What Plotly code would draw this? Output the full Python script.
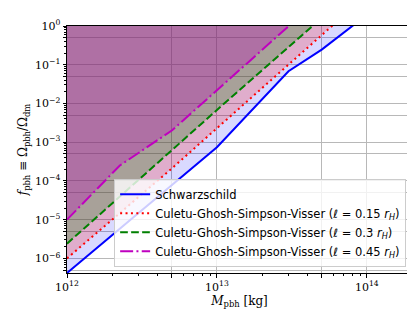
import math
import plotly.graph_objects as go

# ---- data ----
mass_schw = [1e12, 1e13, 3e13, 5e13, 1e14]
f_schw = [4.2e-7, 7.4e-4, 6.8e-2, 0.245, 1.95]

mass_l015 = [1e12, 2e12, 5e12, 1e13, 2e13, 5e13, 1e14]
f_l015 = [1e-6, 1e-5, 2.1e-4, 2.3e-3, 2.5e-2, 0.6, 6.3]

mass_l03 = [1e12, 1e13, 1e14]
f_l03 = [2.4e-6, 6.8e-3, 17.0]

mass_l045 = [1e12, 2.25e12, 5e12, 1e13, 3e13, 1e14]
f_l045 = [1e-5, 2.5e-4, 2e-3, 2.2e-2, 1.0, 63.0]

names = [
    "Schwarzschild",
    "Culetu-Ghosh-Simpson-Visser (<i>ℓ</i> = 0.15 <i>r</i><sub><i>H</i></sub>)",
    "Culetu-Ghosh-Simpson-Visser (<i>ℓ</i> = 0.3 <i>r</i><sub><i>H</i></sub>)",
    "Culetu-Ghosh-Simpson-Visser (<i>ℓ</i> = 0.45 <i>r</i><sub><i>H</i></sub>)",
]

x_tickvals = [1e12, 5e12, 1e13, 5e13, 1e14]
x_ticktext = ["10<sup>12</sup>", "", "10<sup>13</sup>", "", "10<sup>14</sup>"]
y_tickvals = [1e-6, 5e-6, 1e-5, 5e-5, 1e-4, 5e-4, 1e-3, 5e-3, 1e-2, 5e-2, 1e-1, 5e-1, 1, 5e-7]
y_ticktext = ["10<sup>−6</sup>", "", "10<sup>−5</sup>", "", "10<sup>−4</sup>", "",
              "10<sup>−3</sup>", "", "10<sup>−2</sup>", "", "10<sup>−1</sup>", "",
              "10<sup>0</sup>", ""]

x_minor = [m * 10 ** e for e in (12, 13) for m in (2, 3, 4, 6, 7, 8, 9)] + [2e14]
y_minor = [m * 10.0 ** e for e in range(-7, 0) for m in (2, 3, 4, 6, 7, 8, 9)]

F_TOP = 1e3

series = [
    (mass_schw, f_schw, "#0000ff", "solid", "rgba(0,0,255,0.15)"),
    (mass_l015, f_l015, "#ff0000", "2px,3.4px", "rgba(255,0,0,0.2)"),
    (mass_l03, f_l03, "#008000", "7.7px,3.3px", "rgba(0,128,0,0.25)"),
    (mass_l045, f_l045, "#bf00bf", "13px,3.3px,2px,3.3px", "rgba(191,0,191,0.3)"),
]

fig = go.Figure()
# fills above each curve
for mx, fy, col, dash, fillc in series:
    fig.add_trace(go.Scatter(
        x=list(mx) + [mx[-1], mx[0]],
        y=list(fy) + [F_TOP, F_TOP],
        fill="toself", fillcolor=fillc, mode="none",
        showlegend=False, hoverinfo="skip"))
# lines
for (mx, fy, col, dash, fillc), nm in zip(series, names):
    fig.add_trace(go.Scatter(
        x=mx, y=fy, mode="lines", name=nm,
        line=dict(color=col, width=2, dash=dash)))

axis_common = dict(
    type="log", showline=True, linecolor="black", linewidth=1, mirror=True,
    ticks="outside", ticklen=3.5, tickwidth=1, tickcolor="black",
    showgrid=True, gridcolor="#b8b8b8", gridwidth=1, zeroline=False,
    tickfont=dict(family="DejaVu Serif", size=11, color="black"),
    tickmode="array",
)

fig.update_xaxes(
    **axis_common,
    range=[12, math.log10(2e14)],
    tickvals=x_tickvals, ticktext=x_ticktext,
    minor=dict(tickvals=x_minor, ticks="outside", ticklen=2, tickcolor="black", showgrid=False),
    title=dict(text="<i>M</i><sub>pbh</sub> [kg]", font=dict(family="DejaVu Serif", size=12, color="black"), standoff=2),
)
fig.update_yaxes(
    **axis_common,
    range=[math.log10(4.2e-7), 0],
    tickvals=y_tickvals, ticktext=y_ticktext,
    minor=dict(tickvals=y_minor, ticks="outside", ticklen=2, tickcolor="black", showgrid=False),
    title=dict(text="<i>f</i><sub>pbh</sub> ≡ Ω<sub>pbh</sub>/Ω<sub>dm</sub>", font=dict(family="DejaVu Serif", size=12, color="black"), standoff=4),
)

fig.update_layout(
    width=415, height=311,
    margin=dict(l=59, r=10, t=14, b=46),
    paper_bgcolor="white", plot_bgcolor="white",
    showlegend=True,
    legend=dict(
        x=0.983, y=0.025, xanchor="right", yanchor="bottom",
        bgcolor="rgba(255,255,255,0.8)", bordercolor="#cccccc", borderwidth=1,
        font=dict(family="DejaVu Sans", size=11.5, color="black"),
        tracegroupgap=0, itemwidth=30,
    ),
)

fig.write_html("out.html")
